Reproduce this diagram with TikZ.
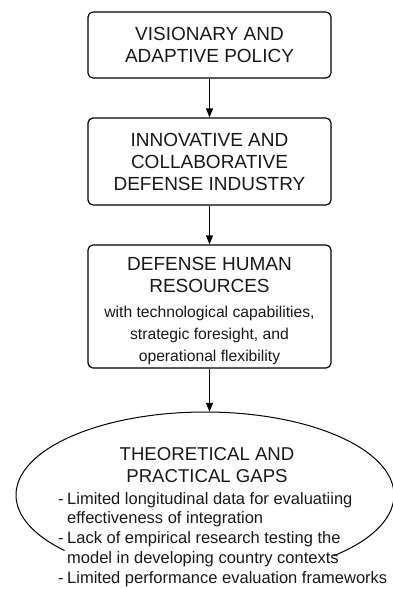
\documentclass[tikz,border=0pt]{standalone}
\usepackage{fontspec}
\setmainfont{Liberation Sans}
\usetikzlibrary{arrows.meta,shapes.geometric}
\newcommand\gapdash{\makebox[9pt][l]{-}}
\begin{document}
\begin{tikzpicture}[x=1pt,y=1pt,
  stagebox/.style={draw, line width=1.2pt, rounded corners=5pt, minimum width=243pt,
    align=center, inner sep=0pt, font=\fontsize{19}{22}\selectfont, text=black!90},
  flow/.style={line width=1.1pt, -{Triangle[length=9pt,width=7pt]}},
  plaintext/.style={inner sep=0pt, text=black!90},
  ]
\useasboundingbox (0,0) rectangle (393,-589);
\node[stagebox, minimum height=66pt] (b1) at (209.5,-45) {VISIONARY AND\\ADAPTIVE POLICY};
\node[stagebox, minimum height=87pt] (b2) at (209.5,-161.5) {INNOVATIVE AND\\COLLABORATIVE\\DEFENSE INDUSTRY};
\node[stagebox, minimum height=123pt] (b3) at (209.5,-306.5) {};
\node[plaintext, align=center, font=\fontsize{19}{22}\selectfont] (b3text) at (209.5,-311) {DEFENSE HUMAN\\RESOURCES\\[3pt]
  \fontsize{15.7}{20.5}\selectfont with technological capabilities,\\
  \fontsize{15.7}{20.5}\selectfont strategic foresight, and\\
  \fontsize{15.7}{20.5}\selectfont operational flexibility};
\node[ellipse, minimum width=378pt, minimum height=166pt, inner sep=0pt] (gaps) at (205,-495) {};
\draw[line width=1pt] (gaps.center) ++(222:189pt and 83pt)
  arc[start angle=222, end angle=-47, x radius=189pt, y radius=83pt];
\node[plaintext, align=center, font=\fontsize{18.6}{22}\selectfont] (gtitle) at (207,-465)
  {THEORETICAL AND\\PRACTICAL GAPS};
\node[plaintext, align=left, anchor=north west, font=\fontsize{16.5}{19.8}\selectfont] (glist) at (58,-492)
  {\gapdash Limited longitudinal data for evaluatiing\\
   \hspace*{9pt}effectiveness of integration\\
   \gapdash Lack of empirical research testing the\\
   \hspace*{9pt}model in developing country contexts\\
   \gapdash Limited performance evaluation frameworks};
\draw[flow] (b1) -- (b2);
\draw[flow] (b2) -- (b3);
\draw[flow] (b3.south) -- (b3.south |- gaps.north);
\end{tikzpicture}
\end{document}
